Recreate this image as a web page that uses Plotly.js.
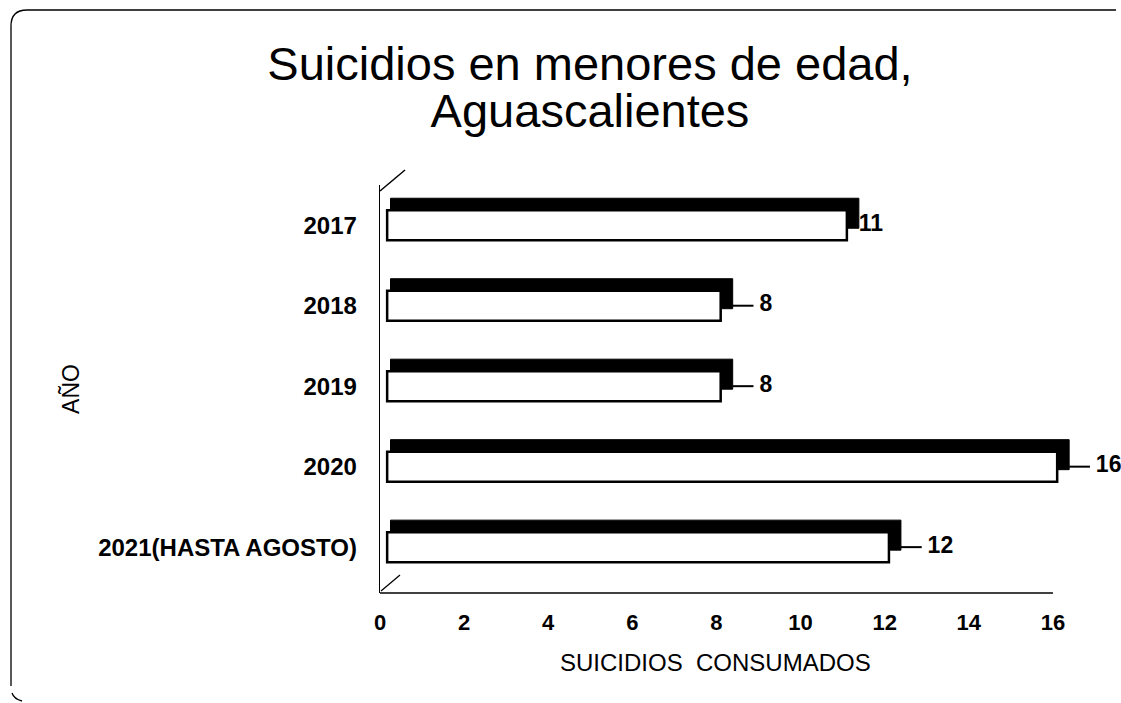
<!DOCTYPE html>
<html>
<head>
<meta charset="utf-8">
<script src="https://cdn.plot.ly/plotly-3.0.1.min.js"></script>
<style>html,body{margin:0;padding:0;background:#fff;}#chart{width:1121px;height:703px;}</style>
</head>
<body>
<div id="chart"></div>
<script>
// ---- data ----
const categories = ['2017', '2018', '2019', '2020', '2021(HASTA AGOSTO)'];
const values = [11, 8, 8, 16, 12];
const hasLeader = [false, true, true, true, true];
const xTickVals = [0, 2, 4, 6, 8, 10, 12, 14, 16];
const titleLines = ['Suicidios en menores de edad,', 'Aguascalientes'];
const xTitle = 'SUICIDIOS\u00a0 CONSUMADOS';
const yTitle = 'AÑO';

// ---- geometry (pixels) ----
const W = 1121, H = 703;
const L = 380, R = 1121, T = 185, B = 593;
const pxPerUnit = 42.06;
const xMax = (R - L) / pxPerUnit;
const yRange = [4.57, -0.5];
const pxPerCat = (B - T) / (yRange[0] - yRange[1]);
const depthX = 12 / pxPerUnit;
const depthY = 12 / pxPerCat;
const barW = 30 / pxPerCat;
const frontBase = 0.17, backBase = 0.25, endPad = 0.1;

const sans = 'Liberation Sans, Arial, sans-serif';

const back = {
  type: 'bar', orientation: 'h', y: categories,
  x: values.map(v => v + endPad + depthX - backBase),
  base: backBase, width: barW, offset: -barW / 2 - depthY,
  marker: {color: '#000', line: {color: '#000', width: 1}},
  hoverinfo: 'skip', showlegend: false
};
const front = {
  type: 'bar', orientation: 'h', y: categories,
  x: values.map(v => v + endPad - frontBase),
  base: frontBase, width: barW, offset: -barW / 2,
  marker: {color: '#fff', line: {color: '#000', width: 2.5}},
  hoverinfo: 'skip', showlegend: false
};
const lx = [], ly = [];
values.forEach((v, i) => {
  if (hasLeader[i]) {
    lx.push(v + endPad + depthX, v + 0.88, null);
    ly.push(categories[i], categories[i], null);
  }
});
const leaders = {
  type: 'scatter', mode: 'lines', x: lx, y: ly,
  line: {color: '#000', width: 2}, hoverinfo: 'skip', showlegend: false
};
const labels = {
  type: 'scatter', mode: 'text',
  x: values.map((v, i) => v + (hasLeader[i] ? 1.02 : 0.38)),
  y: categories, text: values.map(String), textposition: 'middle right',
  textfont: {family: sans, size: 23, color: '#000', weight: 'bold'},
  cliponaxis: false, hoverinfo: 'skip', showlegend: false
};

function px2paperX(p) { return (p - L) / (R - L); }
function px2paperY(p) { return (B - p) / (B - T); }
function P(x, y) { return px2paperX(x).toFixed(5) + ',' + px2paperY(y).toFixed(5); }

const shapes = [
  {type: 'line', xref: 'x', yref: 'paper', x0: 0, x1: 16, y0: 0, y1: 0, line: {color: '#000', width: 1.5}},
  {type: 'line', xref: 'paper', yref: 'paper', x0: px2paperX(380), y0: px2paperY(191), x1: px2paperX(405), y1: px2paperY(170), line: {color: '#000', width: 1.5}},
  {type: 'line', xref: 'paper', yref: 'paper', x0: px2paperX(381), y0: px2paperY(591), x1: px2paperX(400), y1: px2paperY(575), line: {color: '#000', width: 1.2}},
  {type: 'path', xref: 'paper', yref: 'paper',
   path: 'M' + P(11, 686) + ' L' + P(11, 26) + ' Q' + P(11, 10) + ' ' + P(27, 10) + ' L' + P(1116, 10),
   line: {color: '#000', width: 1.3}},
  {type: 'path', xref: 'paper', yref: 'paper',
   path: 'M' + P(12, 693) + ' Q' + P(14, 699) + ' ' + P(22, 701),
   line: {color: '#000', width: 1.3}}
];

const annotations = [
  {text: xTitle, xref: 'paper', yref: 'paper', x: px2paperX(715), y: px2paperY(662),
   xanchor: 'center', yanchor: 'middle', showarrow: false,
   font: {family: sans, size: 24, color: '#000'}}
];

const layout = {
  width: W, height: H,
  margin: {l: L, r: W - R, t: T, b: H - B, pad: 0},
  paper_bgcolor: '#fff', plot_bgcolor: '#fff',
  barmode: 'overlay',
  showlegend: false,
  title: {
    text: titleLines.map(s => '<span style="font-size:47px">' + s + '</span>').join('<br>'),
    xref: 'container', yref: 'container',
    x: 590 / W, xanchor: 'center', y: 1 - 80 / H, yanchor: 'top',
    font: {family: sans, size: 36.5, color: '#000'}
  },
  xaxis: {
    range: [0, xMax], tickvals: xTickVals, ticktext: xTickVals.map(String),
    showgrid: false, zeroline: false, showline: false, ticks: '',
    ticklabelstandoff: 14,
    tickfont: {family: sans, size: 22, color: '#000', weight: 'bold'},
    automargin: false, fixedrange: true
  },
  yaxis: {
    type: 'category', categoryorder: 'array', categoryarray: categories,
    range: yRange, showgrid: false, zeroline: false,
    showline: true, linecolor: '#000', linewidth: 1.3, ticks: '',
    ticklabelstandoff: 17,
    tickfont: {family: sans, size: 24, color: '#000', weight: 'bold'},
    title: {text: yTitle, font: {family: sans, size: 23, color: '#000'}, standoff: 12},
    automargin: false, fixedrange: true
  },
  shapes: shapes,
  annotations: annotations
};

Plotly.newPlot('chart', [back, front, leaders, labels], layout, {staticPlot: true, displayModeBar: false});
</script>
</body>
</html>
